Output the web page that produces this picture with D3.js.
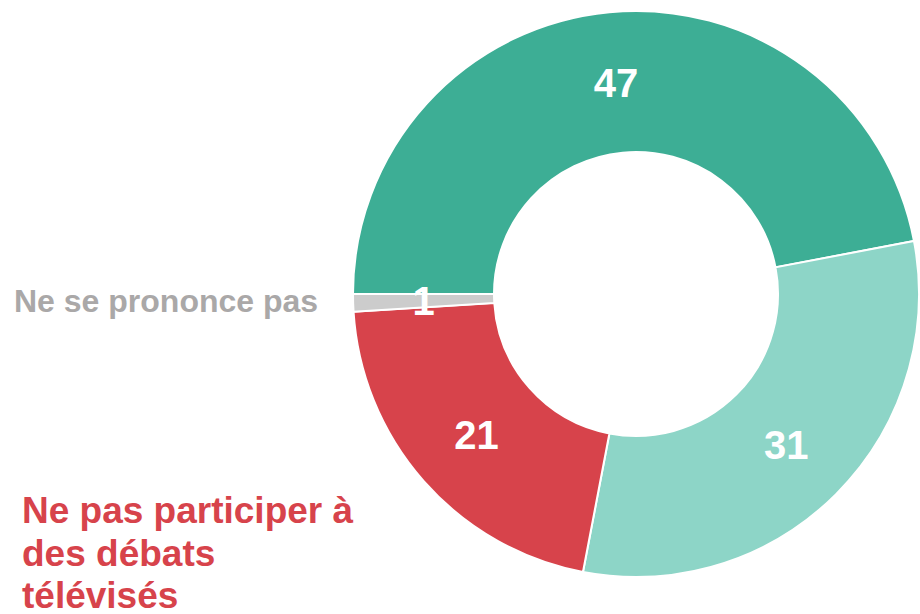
<!DOCTYPE html>
<html>
<head>
<meta charset="utf-8">
<script src="https://cdn.jsdelivr.net/npm/d3@7"></script>
<style>
  body { margin: 0; background: #fff; }
</style>
</head>
<body>
<script>
"use strict"

var width = 920,
    height = 614;

// data, in drawing order (clockwise from the left)
var categories = ["A", "B", "Ne pas participer à des débats télévisés", "Ne se prononce pas"];
var values = [47, 31, 21, 1];
var colors = ["#3dae95", "#8dd5c7", "#d7434b", "#cccccc"];

var cx = 636, cy = 294,
    outerR = 283, innerR = 142;

var svg = d3.select("body").append("svg")
    .attr("width", width)
    .attr("height", height);

var g = svg.append("g")
    .attr("transform", "translate(" + cx + "," + cy + ")");

var pie = d3.pie()
    .sort(null)
    .startAngle(-Math.PI / 2)
    .endAngle(3 * Math.PI / 2);

var arc = d3.arc()
    .innerRadius(innerR)
    .outerRadius(outerR);

var arcs = pie(values);

g.selectAll("path")
    .data(arcs)
  .enter().append("path")
    .attr("d", arc)
    .attr("fill", function(d, i) { return colors[i]; })
    .attr("stroke", "#fff")
    .attr("stroke-width", 2);

g.selectAll("text.val")
    .data(arcs)
  .enter().append("text")
    .attr("class", "val")
    .attr("transform", function(d) { return "translate(" + arc.centroid(d) + ")"; })
    .attr("dy", "0.36em")
    .attr("text-anchor", "middle")
    .attr("font-family", "Liberation Sans, Arial, sans-serif")
    .attr("font-weight", "bold")
    .attr("font-size", "40px")
    .attr("fill", "#fff")
    .text(function(d) { return d.data; });

// side labels
svg.append("text")
    .attr("x", 14)
    .attr("y", 312)
    .attr("font-family", "Liberation Sans, Arial, sans-serif")
    .attr("font-weight", "bold")
    .attr("font-size", "32px")
    .attr("fill", "#aaa8a8")
    .text(categories[3]);

var redLines = ["Ne pas participer à", "des débats", "télévisés"];
svg.append("text")
    .attr("x", 22)
    .attr("font-family", "Liberation Sans, Arial, sans-serif")
    .attr("font-weight", "bold")
    .attr("font-size", "37px")
    .attr("fill", colors[2])
  .selectAll("tspan")
    .data(redLines)
  .enter().append("tspan")
    .attr("x", 22)
    .attr("y", function(d, i) { return 523 + i * 42.5; })
    .text(function(d) { return d; });
</script>
</body>
</html>
